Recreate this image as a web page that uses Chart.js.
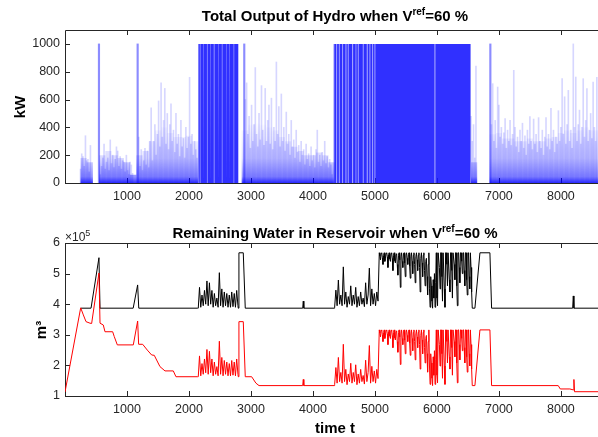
<!DOCTYPE html>
<html>
<head>
<meta charset="utf-8">
<script src="https://cdn.jsdelivr.net/npm/chart.js@4.4.1/dist/chart.umd.min.js"></script>
<style>
  html, body { margin: 0; padding: 0; background: #fff; overflow: hidden; width: 598px; height: 437px; }
  #wrapTop { position: absolute; left: 0; top: 0; width: 612px; height: 205px; }
  #wrapBottom { position: absolute; left: 0; top: 205px; width: 612px; height: 232px; }
</style>
</head>
<body>
<div id="wrapTop"><canvas id="outputChart" width="612" height="205"></canvas></div>
<div id="wrapBottom"><canvas id="volumeChart" width="612" height="232"></canvas></div>
<script>
// ---- data ----
const xTicks = [1000, 2000, 3000, 4000, 5000, 6000, 7000, 8000];
const outputTicks = [0, 200, 400, 600, 800, 1000];
const volumeTicks = [1, 2, 3, 4, 5, 6];
const outputCap = 1000;

// hydro output spikes (kW), one value every 20 h inside each sparse span
const spikeStep = 20;
const spikesA = [100, 210, 190, 120, 340, 160, 170, 80, 270];                        // from 250 h
const spikesB = [60, 120, 180, 280, 100, 150, 180, 90, 310, 140, 200, 110, 170, 260,
  230, 120, 190, 100, 160, 150, 80, 200, 90, 60, 150, 130, 70];                       // from 570 h
const spikesC = [330, 120, 240, 90, 160, 250, 130, 230, 110, 300, 540, 160, 300, 420,
  200, 350, 590, 260, 720, 330, 450, 680, 280, 500, 240, 420, 570, 300, 380, 220,
  500, 280, 350, 190, 450, 260, 320, 180, 400, 250, 330, 760, 280, 350, 200, 300,
  240, 180];                                                                          // from 1190 h
const spikesD = [600, 720, 350, 480, 250, 560, 300, 420, 830, 350, 260, 500, 310, 700,
  380, 270, 680, 300, 450, 560, 280, 610, 240, 400, 300, 870, 350, 550, 260, 640,
  300, 400, 230, 510, 280, 350, 200, 450, 260, 310, 180, 380, 220, 270, 150, 300,
  200, 240, 130, 280, 170, 210, 120, 260, 160, 200, 110, 240, 380, 150, 200, 120,
  220, 160, 300, 140, 190, 110, 170, 130, 60];                                        // from 2910 h
const spikesE = [480, 300, 420, 180, 840];                                            // from 6550 h
const spikesF = [420, 714, 300, 450, 250, 690, 560, 330, 400, 280, 360, 464, 250, 380,
  300, 450, 270, 350, 810, 400, 260, 330, 220, 380, 300, 430, 250, 340, 200, 380,
  280, 478, 300, 240, 460, 280, 350, 220, 470, 300, 250, 380, 200, 330, 470, 260,
  350, 240, 536, 300, 380, 220, 330, 280, 520, 300, 400, 750, 350, 620, 280, 420,
  666, 300, 380, 250, 1000, 400, 762, 300, 420, 524, 280, 400, 750, 330, 450, 678,
  300, 380, 500, 320, 726, 400, 300, 760];                                            // from 6880 h
const spikeStarts = [250, 570, 1190, 2910, 6550, 6880];
const fullSpikeHours = [548, 1172, 2892, 6862];

// dense low mass of the output traces (kW), every 100 h from 200 h
const bodyLevel = [0, 180, 150, 0, 200, 230, 200, 180, 150, 60, 200, 230, 300, 380, 400,
  360, 330, 330, 340, 300, 0, 0, 0, 0, 0, 0, 0, 380, 420, 430, 420, 400, 380, 330, 300,
  260, 230, 200, 200, 220, 200, 150, 0, 0, 0, 0, 0, 0, 0, 0, 0, 0, 0, 0, 0, 0, 0, 0, 0,
  0, 0, 0, 0, 0, 150, 0, 0, 350, 360, 320, 320, 300, 300, 320, 300, 300, 320, 330, 360,
  380, 360, 380, 400, 380, 380];

// spans where the output sits at the 1000 kW cap
const capEnvelopeStarts = [2150, 4328];
const capEnvelopeEnds = [2795, 6545];
const capStarts = [2150, 2185, 2240, 2300, 2350, 2412, 2480, 2540, 2610, 2660, 2730,
  4328, 4345, 4390, 4432, 4486, 4540, 4576, 4648, 4700, 4738, 4818, 4884, 4926, 4970, 5007, 5976];
const capEnds = [2175, 2230, 2290, 2340, 2400, 2470, 2530, 2600, 2650, 2720, 2795,
  4335, 4375, 4418, 4472, 4525, 4562, 4632, 4688, 4724, 4804, 4868, 4912, 4956, 4993, 5960, 6545];

// remaining water (x10^5 m3): turning points and noisy stretches
const upperKeyHours = [253, 420, 548, 565, 1100, 1172, 1190, 2140, 2795, 2806, 2876, 2908,
  3835, 3844, 3853, 4340, 6580, 6613, 6694, 6855, 6882, 8190, 8200, 8210, 8760];
const upperKeyVol = [3.87, 3.87, 5.52, 3.87, 3.87, 4.63, 3.87, 3.87, 3.87, 5.68, 5.68, 3.87,
  3.87, 4.1, 3.87, 3.87, 3.87, 3.87, 5.68, 5.68, 3.87, 3.87, 4.27, 3.87, 3.87];
const lowerKeyHours = [0, 253, 296, 339, 403, 430, 548, 565, 618, 645, 769, 795, 844, 1102, 1172,
  1188, 1253, 1328, 1398, 1440, 1532, 1613, 1747, 1790, 2140, 2795, 2806, 2876, 2908, 3011,
  3080, 3130, 3835, 3844, 3853, 4340, 6580, 6613, 6694, 6855, 6882, 7957, 7990, 8145, 8199,
  8210, 8220, 8760];
const lowerKeyVol = [1.13, 3.88, 3.65, 3.43, 3.38, 3.37, 5.02, 3.38, 3.32, 3.1, 3.1, 2.94, 2.67,
  2.67, 3.45, 2.69, 2.69, 2.5, 2.34, 2.33, 1.96, 1.82, 1.82, 1.63, 1.63, 1.63, 3.43, 3.43, 1.63,
  1.63, 1.42, 1.34, 1.34, 1.54, 1.34, 1.34, 1.34, 1.34, 3.16, 3.16, 1.34, 1.34, 1.23, 1.23, 1.2,
  1.54, 1.14, 1.14];

const noiseStarts = [2150, 4350, 5070];
const noiseSteps = [20, 20, 10];
const upperNoise1 = [3.87, 4.55, 3.9, 4.3, 3.95, 4.45, 4.0, 4.76, 3.95, 4.7, 4.0, 4.45, 3.9, 4.35,
  3.95, 4.2, 3.9, 5.03, 3.95, 4.5, 3.9, 4.4, 3.95, 4.35, 3.9, 4.3, 3.9, 4.4, 3.92, 4.35, 3.9, 4.45, 3.95];
const lowerNoise1 = [1.63, 2.31, 1.66, 2.06, 1.71, 2.21, 1.76, 2.52, 1.71, 2.46, 1.76, 2.21, 1.66,
  2.11, 1.71, 1.96, 1.66, 2.79, 1.71, 2.26, 1.66, 2.16, 1.71, 2.11, 1.66, 2.06, 1.66, 2.16, 1.68,
  2.11, 1.66, 2.21, 1.71];
const upperNoise2 = [3.9, 4.46, 3.95, 4.79, 4.0, 4.3, 3.95, 5.22, 4.0, 4.4, 3.9, 4.25, 4.0, 4.6,
  3.95, 4.3, 4.0, 4.55, 3.9, 4.25, 3.95, 4.4, 4.0, 4.2, 3.92, 4.7, 4.0, 4.3, 5.18, 3.95, 4.5, 4.0,
  4.35, 3.95, 4.4, 4.1];
const lowerNoise2 = [1.37, 1.93, 1.42, 2.26, 1.47, 1.77, 1.42, 2.69, 1.47, 1.87, 1.37, 1.72, 1.47,
  2.07, 1.42, 1.77, 1.47, 2.02, 1.37, 1.72, 1.42, 1.87, 1.47, 1.67, 1.39, 2.17, 1.47, 1.77, 2.65,
  1.42, 1.97, 1.47, 1.82, 1.42, 1.87, 1.57];
const upperNoise3 = [
  5.68, 5.58, 5.45, 5.66, 5.68, 5.52, 5.3, 5.6, 5.68, 5.4,      // 5070-5160
  5.5, 5.66, 5.68, 5.55, 5.2, 5.62, 5.68, 5.48, 5.4, 5.65,      // 5170-5260
  5.68, 5.5, 5.1, 5.6, 5.68, 5.42, 5.35, 5.63, 5.65, 5.3,       // 5270-5360
  4.95, 5.6, 5.68, 5.45, 4.55, 5.55, 5.68, 5.4, 5.2, 5.64,      // 5370-5460
  5.68, 5.35, 4.9, 5.6, 5.68, 5.5, 5.3, 5.62, 5.68, 5.25,       // 5470-5560
  4.85, 5.55, 5.68, 5.4, 5.0, 5.6, 5.68, 5.3, 4.7, 5.55,        // 5570-5660
  5.68, 5.45, 5.1, 5.6, 5.68, 5.2, 4.4, 5.5, 5.68, 5.35,        // 5670-5760
  4.9, 5.6, 5.68, 5.1, 4.6, 5.4, 5.5, 4.9, 4.3, 5.3,            // 5770-5860
  5.68, 4.5, 3.9, 4.9, 4.6, 4.1, 3.87, 4.8, 4.2, 5.0,           // 5870-5960
  3.9, 4.7, 5.68, 4.2, 3.95, 5.68, 5.68, 5.2, 4.5, 5.68,        // 5970-6060
  5.68, 4.9, 4.1, 5.68, 5.68, 4.5, 3.9, 5.68, 5.68, 5.3,        // 6070-6160
  4.6, 5.68, 5.68, 4.8, 4.4, 5.68, 5.68, 5.1, 4.2, 5.68,        // 6170-6260
  5.68, 5.3, 4.8, 5.68, 5.68, 4.6, 3.95, 5.68, 5.68, 5.2,       // 6270-6360
  4.7, 5.68, 5.68, 5.4, 5.0, 5.68, 5.68, 5.1, 4.6, 5.68,        // 6370-6460
  5.68, 4.8, 4.3, 5.68, 5.68, 4.9, 4.5, 5.68, 5.2, 4.4,         // 6470-6560
  3.87];
const lowerNoise3 = [
  3.16, 3.06, 2.93, 3.14, 3.16, 3.0, 2.78, 3.08, 3.16, 2.88,
  2.98, 3.14, 3.16, 3.03, 2.68, 3.1, 3.16, 2.96, 2.88, 3.13,
  3.16, 2.98, 2.58, 3.08, 3.16, 2.9, 2.83, 3.11, 3.13, 2.78,
  2.43, 3.08, 3.16, 2.93, 2.03, 3.03, 3.16, 2.88, 2.68, 3.12,
  3.16, 2.83, 2.38, 3.08, 3.16, 2.98, 2.78, 3.1, 3.16, 2.73,
  2.33, 3.03, 3.16, 2.88, 2.48, 3.08, 3.16, 2.78, 2.18, 3.03,
  3.16, 2.93, 2.58, 3.08, 3.16, 2.68, 1.88, 2.98, 3.16, 2.83,
  2.38, 3.08, 3.16, 2.58, 2.08, 2.88, 2.98, 2.38, 1.78, 2.78,
  3.16, 1.98, 1.38, 2.38, 2.08, 1.58, 1.34, 2.28, 1.68, 2.48,
  1.38, 2.18, 3.16, 1.68, 1.43, 3.16, 3.16, 2.68, 1.98, 3.16,
  3.16, 2.38, 1.58, 3.16, 3.16, 1.98, 1.38, 3.16, 3.16, 2.78,
  2.08, 3.16, 3.16, 2.28, 1.88, 3.16, 3.16, 2.58, 1.68, 3.16,
  3.16, 2.78, 2.28, 3.16, 3.16, 2.08, 1.43, 3.16, 3.16, 2.68,
  2.18, 3.16, 3.16, 2.88, 2.48, 3.16, 3.16, 2.58, 2.08, 3.16,
  3.16, 2.28, 1.78, 3.16, 3.16, 2.38, 1.98, 3.16, 2.68, 1.88,
  1.34];

// ---- helpers ----
const FONT = "'Liberation Sans', Arial, Helvetica, sans-serif";
const AXIS_COLOR = '#262626';

function seq(start, step, values) {
  return values.map((v, i) => ({ x: start + i * step, y: v }));
}
function pairs(xs, ys) {
  return xs.map((x, i) => ({ x: x, y: ys[i] }));
}
function capPath(starts, ends, level) {
  const pts = [];
  starts.forEach((s, i) => {
    pts.push({ x: s, y: 0 }, { x: s, y: level }, { x: ends[i], y: level }, { x: ends[i], y: 0 });
  });
  return pts;
}
function byX(a, b) { return a.x - b.x; }

const spikePoints = [spikesA, spikesB, spikesC, spikesD, spikesE, spikesF]
  .flatMap((arr, i) => seq(spikeStarts[i], spikeStep, arr));
const fullSpikePoints = fullSpikeHours.map(h => ({ x: h, y: outputCap }));

function withNoise(keyHours, keyVol, noises) {
  let pts = pairs(keyHours, keyVol);
  noises.forEach((arr, i) => { pts = pts.concat(seq(noiseStarts[i], noiseSteps[i], arr)); });
  return pts.sort(byX);
}
const upperPoints = withNoise(upperKeyHours, upperKeyVol, [upperNoise1, upperNoise2, upperNoise3]);
const lowerPoints = withNoise(lowerKeyHours, lowerKeyVol, [lowerNoise1, lowerNoise2, lowerNoise3]);

// MATLAB-like axes box, inward ticks and all the free text
function drawRich(ctx, parts, cx, y) {
  let w = 0;
  parts.forEach(p => { ctx.font = p.font; w += ctx.measureText(p.text).width; });
  let x = cx - w / 2;
  parts.forEach(p => {
    ctx.font = p.font;
    ctx.fillText(p.text, x, y - (p.rise || 0));
    x += ctx.measureText(p.text).width;
  });
}

const matlabAxes = {
  id: 'matlabAxes',
  beforeDatasetsDraw(chart) {
    const { ctx, chartArea: a, scales } = chart;
    ctx.save();
    ctx.strokeStyle = AXIS_COLOR;
    ctx.lineWidth = 1;
    ctx.beginPath();
    ctx.moveTo(a.left + 0.5, a.bottom + 0.5);
    ctx.lineTo(a.left + 0.5, a.top + 0.5);
    ctx.lineTo(a.right + 0.5, a.top + 0.5);
    ctx.lineTo(a.right + 0.5, a.bottom + 0.5);
    ctx.closePath();
    scales.x.ticks.forEach(t => {
      const px = Math.round(scales.x.getPixelForValue(t.value)) + 0.5;
      ctx.moveTo(px, a.bottom); ctx.lineTo(px, a.bottom - 5);
      ctx.moveTo(px, a.top); ctx.lineTo(px, a.top + 5);
    });
    scales.y.ticks.forEach(t => {
      const py = Math.round(scales.y.getPixelForValue(t.value)) + 0.5;
      ctx.moveTo(a.left, py); ctx.lineTo(a.left + 5, py);
    });
    ctx.stroke();
    ctx.restore();
  },
  afterDraw(chart, args, opts) {
    const { ctx } = chart;
    ctx.save();
    ctx.fillStyle = '#000';
    ctx.textBaseline = 'alphabetic';
    ctx.textAlign = 'left';
    const bold = 'bold 15px ' + FONT;
    const sup = 'bold 10px ' + FONT;
    drawRich(ctx, [
      { text: opts.title + ' when V', font: bold },
      { text: 'ref', font: sup, rise: 6 },
      { text: '=60 %', font: bold }
    ], opts.titleX, opts.titleY);

    ctx.save();
    ctx.translate(opts.yLabelX, opts.yLabelY);
    ctx.rotate(-Math.PI / 2);
    ctx.textAlign = 'center';
    ctx.font = 'bold 15px ' + FONT;
    ctx.fillText(opts.yLabel, 0, 0);
    ctx.restore();

    if (opts.xLabel) {
      ctx.textAlign = 'center';
      ctx.font = 'bold 15px ' + FONT;
      ctx.fillText(opts.xLabel, opts.xLabelX, opts.xLabelY);
    }
    if (opts.exponent) {
      ctx.fillStyle = AXIS_COLOR;
      ctx.textAlign = 'left';
      ctx.font = '12px ' + FONT;
      const w = ctx.measureText('\u00d710').width;
      ctx.fillText('\u00d710', 65, opts.exponentY);
      ctx.font = '9px ' + FONT;
      ctx.fillText(opts.exponent, 65 + w, opts.exponentY - 5);
    }
    ctx.restore();
  }
};

function plainTick(v) { return String(v); }

function xScale(extraHeight) {
  return {
    type: 'linear', min: 0, max: 8760, offset: false,
    grid: { display: false, drawTicks: false }, border: { display: false },
    afterBuildTicks: s => { s.ticks = xTicks.map(v => ({ value: v })); },
    afterFit: s => { s.height = extraHeight; },
    ticks: { color: AXIS_COLOR, font: { family: FONT, size: 12.5 }, padding: 6,
             maxRotation: 0, autoSkip: false, includeBounds: false, callback: plainTick }
  };
}
function yScale(min, max, tickValues) {
  return {
    min: min, max: max,
    grid: { display: false, drawTicks: false }, border: { display: false },
    afterBuildTicks: s => { s.ticks = tickValues.map(v => ({ value: v })); },
    afterFit: s => { s.width = 65; },
    ticks: { color: AXIS_COLOR, font: { family: FONT, size: 12.5 }, padding: 5, callback: plainTick }
  };
}

function bodyGradient(context) {
  const chart = context.chart;
  if (!chart.chartArea) return 'rgba(0,0,255,0.3)';
  const y = chart.scales.y;
  const g = chart.ctx.createLinearGradient(0, y.getPixelForValue(0), 0, y.getPixelForValue(450));
  g.addColorStop(0, 'rgba(0,0,255,0.8)');
  g.addColorStop(0.1, 'rgba(0,0,255,0.42)');
  g.addColorStop(0.4, 'rgba(0,0,255,0.14)');
  g.addColorStop(1, 'rgba(0,0,255,0)');
  return g;
}

// ---- top: total hydro output ----
new Chart(document.getElementById('outputChart'), {
  type: 'bar',
  data: {
    datasets: [
      { type: 'line', data: seq(200, 100, bodyLevel), stepped: 'middle', fill: 'origin',
        backgroundColor: bodyGradient, borderWidth: 0, pointRadius: 0, order: 5 },
      { type: 'line', data: capPath(capEnvelopeStarts, capEnvelopeEnds, outputCap), fill: 'origin',
        backgroundColor: 'rgba(60,60,255,0.4)', borderWidth: 0, pointRadius: 0, order: 4 },
      { type: 'line', data: capPath(capStarts, capEnds, outputCap), fill: 'origin',
        backgroundColor: 'rgba(20,20,255,0.82)', borderWidth: 0, pointRadius: 0, order: 3 },
      { type: 'bar', data: spikePoints, backgroundColor: 'rgba(0,0,255,0.16)',
        barThickness: 1, grouped: false, order: 2 },
      { type: 'bar', data: fullSpikePoints, backgroundColor: 'rgba(0,0,255,0.45)',
        barThickness: 1.5, grouped: false, order: 1 }
    ]
  },
  options: {
    responsive: false, animation: false, devicePixelRatio: 1,
    layout: { padding: { top: 30, right: 4, bottom: 0, left: 0 } },
    plugins: {
      legend: { display: false }, tooltip: { enabled: false },
      matlabAxes: { title: 'Total Output of Hydro', titleX: 335, titleY: 21,
                    yLabel: 'kW', yLabelX: 25, yLabelY: 107 }
    },
    scales: { x: xScale(22), y: yScale(0, 1100, outputTicks) }
  },
  plugins: [matlabAxes]
});

// ---- bottom: remaining water in reservoir ----
new Chart(document.getElementById('volumeChart'), {
  type: 'line',
  data: {
    datasets: [
      { data: lowerPoints, borderColor: '#ff0000', borderWidth: 1, pointRadius: 0, tension: 0, order: 0 },
      { data: upperPoints, borderColor: '#000000', borderWidth: 1, pointRadius: 0, tension: 0, order: 1 }
    ]
  },
  options: {
    responsive: false, animation: false, devicePixelRatio: 1,
    layout: { padding: { top: 38, right: 4, bottom: 19, left: 0 } },
    plugins: {
      legend: { display: false }, tooltip: { enabled: false },
      matlabAxes: { title: 'Remaining Water in Reservoir', titleX: 335, titleY: 33,
                    yLabel: 'm\u00b3', yLabelX: 46, yLabelY: 125,
                    xLabel: 'time t', xLabelX: 335, xLabelY: 228,
                    exponent: '5', exponentY: 36 }
    },
    scales: { x: xScale(22), y: yScale(1, 6, volumeTicks) }
  },
  plugins: [matlabAxes]
});
</script>
</body>
</html>
